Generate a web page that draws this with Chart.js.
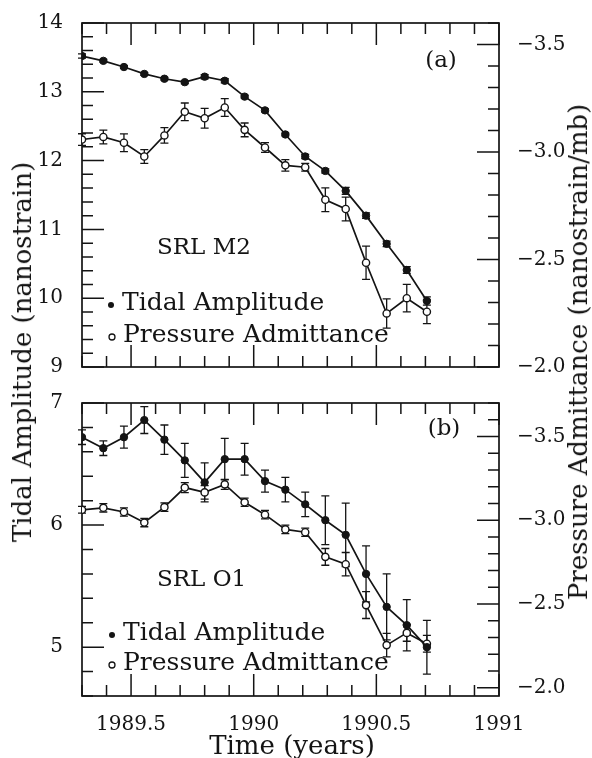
<!DOCTYPE html>
<html>
<head>
<meta charset="utf-8">
<script src="https://cdn.jsdelivr.net/npm/chart.js@4.4.1/dist/chart.umd.min.js"></script>
<style>
  html, body { margin: 0; padding: 0; background: #fff; }
  #wrap { position: relative; width: 592px; height: 758px; overflow: hidden;
          font-family: "DejaVu Serif", serif; color: #141414; }
  canvas { position: absolute; left: 0; }
  #chartA { top: 0; }
  #chartB { top: 380px; }
  .ytitle { position: absolute; white-space: nowrap; font-size: 26px;
            transform: translate(-50%, -50%) rotate(-90deg); }
  #xtitle { position: absolute; left: 292px; top: 745px; white-space: nowrap;
            font-size: 26px; transform: translate(-50%, -50%); }
</style>
</head>
<body>
<div id="wrap">
  <canvas id="chartA" width="592" height="390" style="width:592px;height:390px"></canvas>
  <canvas id="chartB" width="592" height="378" style="width:592px;height:378px"></canvas>
  <div class="ytitle" style="left:22px;top:352px">Tidal Amplitude (nanostrain)</div>
  <div class="ytitle" style="left:578px;top:352px">Pressure Admittance (nanostrain/mb)</div>
  <div id="xtitle">Time (years)</div>
</div>
<script>
// ── data ─────────────────────────────────────────
const times = [1989.300, 1989.387, 1989.471, 1989.554, 1989.636, 1989.719, 1989.800, 1989.882, 1989.963,
               1990.046, 1990.129, 1990.210, 1990.292, 1990.375, 1990.458, 1990.542, 1990.624, 1990.706];

// (a) SRL M2
const m2Tidal    = [13.52, 13.45, 13.36, 13.26, 13.19, 13.14, 13.22, 13.16, 12.93,
                    12.73, 12.38, 12.06, 11.85, 11.56, 11.20, 10.79, 10.41, 9.96];
const m2TidalErr = [0.03, 0.02, 0.02, 0.02, 0.02, 0.02, 0.03, 0.03, 0.02,
                    0.02, 0.02, 0.03, 0.03, 0.05, 0.04, 0.04, 0.05, 0.06];
const m2Press    = [-3.058, -3.070, -3.043, -2.979, -3.077, -3.187, -3.157, -3.207, -3.103,
                    -3.021, -2.938, -2.929, -2.778, -2.735, -2.485, -2.249, -2.320, -2.257];
const m2PressErr = [0.027, 0.032, 0.041, 0.032, 0.036, 0.041, 0.046, 0.041, 0.032,
                    0.023, 0.027, 0.018, 0.055, 0.055, 0.077, 0.068, 0.064, 0.055];

// (b) SRL O1
const o1Tidal    = [6.72, 6.63, 6.72, 6.86, 6.70, 6.53, 6.35, 6.54, 6.54,
                    6.36, 6.29, 6.17, 6.04, 5.92, 5.60, 5.33, 5.18, 5.00];
const o1TidalErr = [0.06, 0.06, 0.09, 0.11, 0.12, 0.14, 0.16, 0.17, 0.13,
                    0.09, 0.10, 0.10, 0.20, 0.26, 0.23, 0.27, 0.21, 0.22];
const o1Press    = [-3.062, -3.074, -3.049, -2.986, -3.078, -3.195, -3.166, -3.214, -3.107,
                    -3.033, -2.945, -2.928, -2.781, -2.737, -2.493, -2.254, -2.327, -2.262];
const o1PressErr = [0.02, 0.025, 0.025, 0.025, 0.025, 0.03, 0.04, 0.03, 0.025,
                    0.025, 0.025, 0.025, 0.05, 0.07, 0.08, 0.07, 0.05, 0.05];

// ── ticks ────────────────────────────────────────
const xTicks      = [1989.5, 1990, 1990.5, 1991];
const xTickLabels = ["1989.5", "1990", "1990.5", "1991"];
const leftTicksA  = [9, 10, 11, 12, 13, 14];
const leftTicksB  = [5, 6, 7];
const rightTicks  = [-3.5, -3.0, -2.5, -2.0];
const rightLabels = ["\u22123.5", "\u22123.0", "\u22122.5", "\u22122.0"];

const INK = "#141414";
const FONT = "'DejaVu Serif', serif";
Chart.defaults.font.family = FONT;
Chart.defaults.color = INK;

// ── error bars ───────────────────────────────────
const errorBars = {
  id: "errorBars",
  beforeDatasetsDraw(chart) {
    const ctx = chart.ctx;
    ctx.save();
    ctx.strokeStyle = INK;
    ctx.lineWidth = 1.3;
    chart.data.datasets.forEach(ds => {
      const ys = chart.scales[ds.yAxisID];
      const xs = chart.scales.x;
      ds.data.forEach((p, i) => {
        const e = ds.errs[i];
        const px = xs.getPixelForValue(p.x);
        const y1 = ys.getPixelForValue(p.y - e);
        const y2 = ys.getPixelForValue(p.y + e);
        ctx.beginPath();
        ctx.moveTo(px, y1); ctx.lineTo(px, y2);
        ctx.moveTo(px - 4, y1); ctx.lineTo(px + 4, y1);
        ctx.moveTo(px - 4, y2); ctx.lineTo(px + 4, y2);
        ctx.stroke();
      });
    });
    ctx.restore();
  }
};

// ── frame + inward ticks ─────────────────────────
function steps(from, to, step) {
  const out = [];
  for (let k = 0; from + k * step <= to + 1e-9; k++) out.push(+(from + k * step).toFixed(4));
  return out;
}
const isMult = (v, m) => Math.abs(v / m - Math.round(v / m)) < 1e-6;

const frameTicks = {
  id: "frameTicks",
  beforeDatasetsDraw(chart, args, opts) {
    const { ctx, chartArea: a } = chart;
    const MAJ = 22, MIN = 11;
    ctx.save();
    ctx.strokeStyle = INK;
    ctx.lineWidth = 1.7;
    ctx.strokeRect(a.left, a.top, a.right - a.left, a.bottom - a.top);
    ctx.lineWidth = 1.5;
    ctx.beginPath();
    steps(1989.3, 1991.0, 0.1).forEach(v => {
      const px = chart.scales.x.getPixelForValue(v);
      const len = isMult(v, 0.5) ? MAJ : MIN;
      ctx.moveTo(px, a.bottom); ctx.lineTo(px, a.bottom - len);
      ctx.moveTo(px, a.top);    ctx.lineTo(px, a.top + len);
    });
    const yl = chart.scales.yL;
    steps(yl.min, yl.max, 0.2).forEach(v => {
      const py = yl.getPixelForValue(v);
      const len = isMult(v, 1) ? MAJ : MIN;
      ctx.moveTo(a.left, py); ctx.lineTo(a.left + len, py);
    });
    const yr = chart.scales.yR;
    steps(opts.rMin, opts.rMax, 0.1).forEach(v => {
      const py = yr.getPixelForValue(v);
      const len = isMult(v, 0.5) ? MAJ : MIN;
      ctx.moveTo(a.right, py); ctx.lineTo(a.right - len, py);
    });
    ctx.stroke();
    ctx.restore();
  }
};

// ── panel labels and legend text ─────────────────
const notes = {
  id: "notes",
  afterDraw(chart, args, opts) {
    const ctx = chart.ctx;
    ctx.save();
    ctx.fillStyle = INK;
    ctx.strokeStyle = INK;
    ctx.textBaseline = "middle";
    opts.items.forEach(n => {
      ctx.font = `${n.size}px ${FONT}`;
      ctx.textAlign = n.align || "left";
      ctx.fillText(n.text, n.x, n.y);
      if (n.mark) {
        ctx.beginPath();
        ctx.arc(n.x - 11, n.y + 2, 3, 0, Math.PI * 2);
        if (n.mark === "filled") ctx.fill();
        else { ctx.lineWidth = 1.3; ctx.stroke(); }
      }
    });
    ctx.restore();
  }
};

function makeChart(id, cfg) {
  const pts = vals => times.map((t, i) => ({ x: t, y: vals[i] }));
  return new Chart(document.getElementById(id), {
    type: "line",
    data: {
      datasets: [{
        label: "Tidal Amplitude",
        data: pts(cfg.tidal), errs: cfg.tidalErr, yAxisID: "yL",
        borderColor: INK, borderWidth: 1.7, tension: 0,
        pointRadius: 3.7, pointBackgroundColor: INK, pointBorderColor: INK, pointBorderWidth: 1,
      }, {
        label: "Pressure Admittance",
        data: pts(cfg.press), errs: cfg.pressErr, yAxisID: "yR",
        borderColor: INK, borderWidth: 1.7, tension: 0,
        pointRadius: 3.6, pointBackgroundColor: "#fff", pointBorderColor: INK, pointBorderWidth: 1.4,
      }],
    },
    options: {
      responsive: false,
      animation: false,
      devicePixelRatio: 1,
      layout: { padding: { top: 17, bottom: cfg.padBottom, left: 0, right: 0 } },
      plugins: {
        legend: { display: false },
        tooltip: { enabled: false },
        frameTicks: { rMin: cfg.rMin, rMax: -2.0 },
        notes: { items: cfg.notes },
      },
      scales: {
        x: {
          type: "linear", min: 1989.3, max: 1991.0, display: cfg.showX,
          grid: { display: false }, border: { display: false },
          afterBuildTicks: s => { s.ticks = xTicks.map(v => ({ value: v })); },
          ticks: { padding: 9, font: { size: 20 }, maxRotation: 0,
                   callback: (v, i) => xTickLabels[i] },
          afterFit: s => { s.height = cfg.showX ? 62 : 0; },
        },
        yL: {
          position: "left", min: cfg.lMin, max: cfg.lMax,
          grid: { display: false }, border: { display: false },
          afterBuildTicks: s => { s.ticks = cfg.leftTicks.map(v => ({ value: v })); },
          ticks: { padding: 11, font: { size: 20 }, callback: (v, i) => String(cfg.leftTicks[i]) },
          afterFit: s => { s.width = 82; },
        },
        yR: {
          position: "right", reverse: true, min: cfg.rMin, max: cfg.rMax,
          grid: { display: false }, border: { display: false },
          afterBuildTicks: s => { s.ticks = rightTicks.map(v => ({ value: v })); },
          ticks: { padding: 10, font: { size: 20 }, callback: (v, i) => rightLabels[i] },
          afterFit: s => { s.width = 93; },
        },
      },
    },
    plugins: [errorBars, frameTicks, notes],
  });
}

makeChart("chartA", {
  tidal: m2Tidal, tidalErr: m2TidalErr, press: m2Press, pressErr: m2PressErr,
  lMin: 9, lMax: 14, leftTicks: leftTicksA, rMin: -3.6, rMax: -2.0,
  showX: false, padBottom: 22,
  notes: [
    { text: "(a)", x: 441, y: 61, size: 23, align: "center" },
    { text: "SRL M2", x: 157, y: 248, size: 23 },
    { text: "Tidal Amplitude", x: 122, y: 303, size: 25, mark: "filled" },
    { text: "Pressure Admittance", x: 123, y: 335, size: 25, mark: "open" },
  ],
});

makeChart("chartB", {
  tidal: o1Tidal, tidalErr: o1TidalErr, press: o1Press, pressErr: o1PressErr,
  lMin: 4.6, lMax: 7, leftTicks: leftTicksB, rMin: -3.7, rMax: -1.95,
  showX: true, padBottom: 0,
  notes: [
    { text: "(b)", x: 444, y: 49, size: 23, align: "center" },
    { text: "SRL O1", x: 157, y: 200, size: 23 },
    { text: "Tidal Amplitude", x: 123, y: 253, size: 25, mark: "filled" },
    { text: "Pressure Admittance", x: 123, y: 283, size: 25, mark: "open" },
  ],
});
</script>
</body>
</html>
